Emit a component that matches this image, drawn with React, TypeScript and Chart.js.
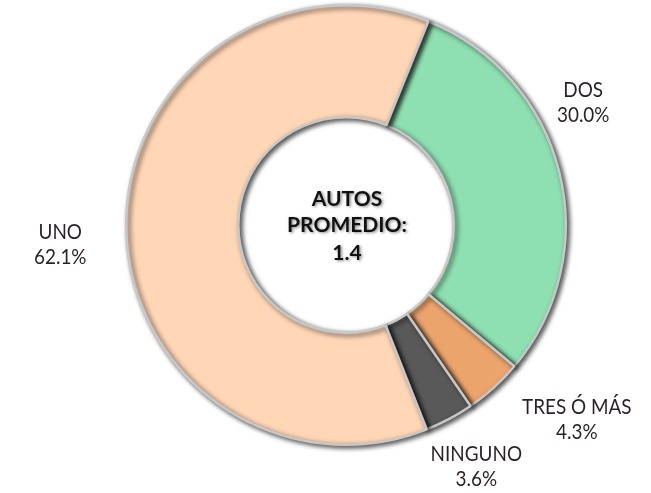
import React, { useEffect, useRef } from "react";
import { Chart, registerables } from "chart.js";

Chart.register(...registerables);

const CATEGORIES = ["DOS", "TRES Ó MÁS", "NINGUNO", "UNO"];
const VALUES = [30.0, 4.3, 3.6, 62.1];
const COLORS = ["#8EDFB2", "#ECA46D", "#595959", "#FFD6B6"];
const CENTER_LINES = ["AUTOS", "PROMEDIO:", "1.4"];
// label offsets (px) from each slice's outer mid-point
const LABEL_OFFSETS = [
  [24, -69],
  [83, 32],
  [27, 48],
  [-66, 21],
];

const shadowPlugin = {
  id: "ringShadow",
  beforeDatasetsDraw(chart: any) {
    const ctx = chart.ctx;
    ctx.save();
    ctx.shadowColor = "rgba(0,0,0,0.7)";
    ctx.shadowBlur = 5;
    ctx.shadowOffsetX = 2.5;
    ctx.shadowOffsetY = 2;
  },
  afterDatasetsDraw(chart: any) {
    chart.ctx.restore();
  },
};

const labelPlugin = {
  id: "sliceLabels",
  afterDraw(chart: any) {
    const ctx = chart.ctx;
    const meta = chart.getDatasetMeta(0);
    ctx.save();
    ctx.fillStyle = "#2b1f2b";
    ctx.textAlign = "center";
    ctx.textBaseline = "middle";
    ctx.font = "21px Lato";
    meta.data.forEach((arc: any, i: number) => {
      const mid = (arc.startAngle + arc.endAngle) / 2;
      const ax = arc.x + Math.cos(mid) * arc.outerRadius;
      const ay = arc.y + Math.sin(mid) * arc.outerRadius;
      const x = ax + LABEL_OFFSETS[i][0];
      const y = ay + LABEL_OFFSETS[i][1];
      const lines = [CATEGORIES[i], VALUES[i].toFixed(1) + "%"];
      lines.forEach((t, j) => {
        ctx.save();
        ctx.translate(x, y + (j - 0.5) * 25);
        ctx.scale(0.9, 1);
        ctx.fillText(t, 0, 0);
        ctx.restore();
      });
    });
    // center text
    const a = meta.data[0];
    ctx.font = "bold 21px Lato";
    ctx.fillStyle = "#111111";
    ctx.shadowColor = "rgba(0,0,0,0.45)";
    ctx.shadowBlur = 3;
    ctx.shadowOffsetX = 1.5;
    ctx.shadowOffsetY = 1.5;
    const offs = [-26, 0, 28];
    CENTER_LINES.forEach((t, j) => {
      ctx.fillText(t, a.x + 1, a.y + offs[j]);
    });
    ctx.restore();
  },
};

export default function App() {
  const ref = useRef<HTMLCanvasElement | null>(null);
  useEffect(() => {
    document.body.style.margin = "0";
    const chart = new Chart(ref.current as HTMLCanvasElement, {
      type: "doughnut",
      data: {
        labels: CATEGORIES,
        datasets: [
          {
            data: VALUES,
            backgroundColor: COLORS,
            borderColor: "#c8c8c8",
            borderWidth: 2.5,
          },
        ],
      },
      options: {
        animation: false,
        responsive: false,
        rotation: 22,
        cutout: "49%",
        layout: { padding: { left: 125, right: 84, top: 4, bottom: 47 } },
        plugins: {
          legend: { display: false },
          tooltip: { enabled: false },
        },
      },
      plugins: [shadowPlugin, labelPlugin],
    });
    return () => chart.destroy();
  }, []);
  return (
    <div style={{ position: "absolute", left: 0, top: 0, width: 651, height: 493, background: "#fff" }}>
      <canvas ref={ref} width={651} height={493} />
    </div>
  );
}
